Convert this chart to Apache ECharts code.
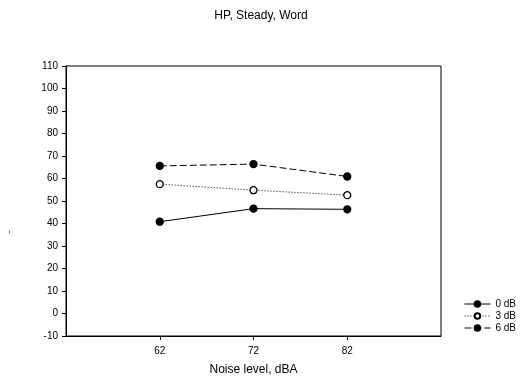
<!DOCTYPE html>
<html>
<head>
<meta charset="utf-8">
<script src="https://cdn.jsdelivr.net/npm/echarts@6/dist/echarts.min.js"></script>
<style>
  html, body { margin: 0; padding: 0; background: #fff; }
  #chart { width: 522px; height: 382px; }
</style>
</head>
<body>
<div id="chart"></div>
<script>
// Noise levels (dBA) on the x axis
const noiseLevels = [62, 72, 82];
// Scores per signal-to-noise condition
const snr0dB = [40.8, 46.6, 46.3];
const snr3dB = [57.5, 54.8, 52.6];
const snr6dB = [65.6, 66.4, 60.9];
const seriesNames = ['0 dB', '3 dB', '6 dB'];

const FONT = 'Liberation Sans, Arial, sans-serif';

function pairs(values) {
  return noiseLevels.map((x, i) => [x, values[i]]);
}

function lineSeries(name, values, dash, filled) {
  return {
    name: name,
    type: 'line',
    data: pairs(values),
    symbol: 'circle',
    symbolSize: 7,
    lineStyle: { color: '#000', width: 1, type: dash },
    itemStyle: { color: filled ? '#000' : '#fff', borderColor: '#000', borderWidth: 1.3 },
    emphasis: { disabled: true },
    animation: false
  };
}

const chart = echarts.init(document.getElementById('chart'), null, { renderer: 'canvas' });
chart.setOption({
  backgroundColor: '#fff',
  animation: false,
  title: {
    text: 'HP, Steady, Word',
    left: 'center',
    top: 5,
    textStyle: { fontFamily: FONT, fontSize: 12, fontWeight: 'normal', color: '#000' }
  },
  grid: {
    left: 66, right: 81, top: 66, bottom: 46,
    show: true, borderColor: '#000', borderWidth: 1
  },
  legend: {
    orient: 'vertical',
    right: 1,
    top: 294,
    itemWidth: 26,
    itemHeight: 7,
    itemGap: 2,
    data: seriesNames,
    lineStyle: { width: 1 },
    textStyle: { fontFamily: FONT, fontSize: 10, color: '#000' }
  },
  graphic: [{
    type: 'text',
    left: 7,
    top: 230,
    rotation: Math.PI / 2,
    style: { text: '~', fontFamily: FONT, fontSize: 7, fill: '#000' }
  }],
  xAxis: {
    type: 'value',
    min: 52, max: 92, interval: 10,
    name: 'Noise level, dBA',
    nameLocation: 'middle',
    nameGap: 28,
    nameTextStyle: { fontFamily: FONT, fontSize: 12, color: '#000' },
    axisLine: { show: true, onZero: false, lineStyle: { color: '#000', width: 1 } },
    axisTick: { show: true, inside: false, length: 4, customValues: noiseLevels, lineStyle: { color: '#000' } },
    axisLabel: { customValues: noiseLevels, fontFamily: FONT, fontSize: 10, color: '#000', margin: 10 },
    splitLine: { show: false }
  },
  yAxis: {
    type: 'value',
    min: -10, max: 110, interval: 10,
    axisLine: { show: true, onZero: false, lineStyle: { color: '#000', width: 1 } },
    axisTick: { show: true, inside: false, length: 4, lineStyle: { color: '#000' } },
    axisLabel: { fontFamily: FONT, fontSize: 10, color: '#000', margin: 8 },
    splitLine: { show: false }
  },
  series: [
    lineSeries(seriesNames[0], snr0dB, 'solid', true),
    lineSeries(seriesNames[1], snr3dB, [1, 2], false),
    lineSeries(seriesNames[2], snr6dB, [7, 3], true)
  ]
});
</script>
</body>
</html>
